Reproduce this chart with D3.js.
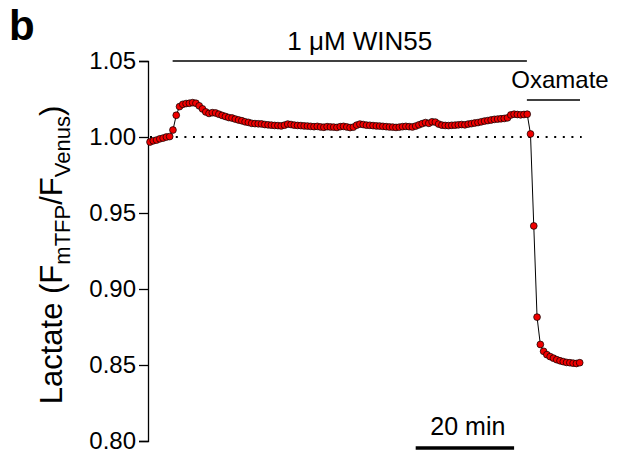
<!DOCTYPE html>
<html>
<head>
<meta charset="utf-8">
<script src="https://cdn.jsdelivr.net/npm/d3@7"></script>
<style>
  html, body { margin: 0; padding: 0; background: #fff; }
  svg { display: block; font-family: Arial, "Liberation Sans", sans-serif; }
</style>
</head>
<body>
<svg id="chart" width="624" height="459"></svg>
<script>
// Lactate sensor ratio, one reading every 40 s
const sampleIntervalMin = 2 / 3;
const lactateRatio = [
  0.9967, 0.9975, 0.9980, 0.9988, 0.9993, 1.0000, 1.0003, 1.0046, 1.0143, 1.0200,
  1.0215, 1.0220, 1.0222, 1.0226, 1.0222, 1.0205, 1.0185, 1.0165, 1.0155, 1.0160,
  1.0158, 1.0150, 1.0142, 1.0135, 1.0128, 1.0125, 1.0118, 1.0112, 1.0107, 1.0100,
  1.0096, 1.0090, 1.0088, 1.0087, 1.0086, 1.0082, 1.0080, 1.0078, 1.0076, 1.0075,
  1.0073, 1.0078, 1.0085, 1.0082, 1.0078, 1.0076, 1.0075, 1.0073, 1.0072, 1.0070,
  1.0068, 1.0070, 1.0066, 1.0064, 1.0068, 1.0066, 1.0065, 1.0063, 1.0068, 1.0070,
  1.0066, 1.0062, 1.0065, 1.0078, 1.0085, 1.0082, 1.0078, 1.0077, 1.0075, 1.0073,
  1.0072, 1.0070, 1.0068, 1.0066, 1.0065, 1.0063, 1.0065, 1.0068, 1.0070, 1.0068,
  1.0066, 1.0072, 1.0080, 1.0088, 1.0095, 1.0090, 1.0100, 1.0098, 1.0085, 1.0078,
  1.0076, 1.0075, 1.0077, 1.0078, 1.0080, 1.0082, 1.0080, 1.0085, 1.0088, 1.0092,
  1.0095, 1.0100, 1.0105, 1.0108, 1.0112, 1.0116, 1.0118, 1.0120, 1.0122, 1.0126,
  1.0145, 1.0150, 1.0148, 1.0146, 1.0148, 1.0150, 1.0020, 0.9415, 0.8815, 0.8635,
  0.8590, 0.8568, 0.8555, 0.8545, 0.8535, 0.8528, 0.8522, 0.8517, 0.8515, 0.8512,
  0.8510, 0.8515
];

// Drug application periods (minutes)
const treatmentLabels = ["1 \u03BCM WIN55", "Oxamate"];
const treatmentStart = [4.6, 76.6];
const treatmentEnd = [76.6, 87.4];

// Axis ticks and scale bar
const yTicks = [0.80, 0.85, 0.90, 0.95, 1.00, 1.05];
const baselineRatio = 1.00;
const scaleBarStart = 54;
const scaleBarMinutes = 20;

const series = lactateRatio.map((v, i) => ({ t: i * sampleIntervalMin, v }));

const svg = d3.select("#chart");

const x = d3.scaleLinear()
  .domain([0, (lactateRatio.length - 1) * sampleIntervalMin])
  .range([150, 579.7]);
const y = d3.scaleLinear().domain([0.80, 1.05]).range([441, 61]);

// Panel letter
svg.append("text")
  .attr("x", 9).attr("y", 40)
  .attr("font-size", 42).attr("font-weight", "bold")
  .text("b");

// Y axis
const yAxis = d3.axisLeft(y)
  .tickValues(yTicks)
  .tickFormat(d3.format(".2f"))
  .tickSize(9)
  .tickPadding(3);
const gy = svg.append("g")
  .attr("transform", "translate(148,0)")
  .call(yAxis);
gy.select(".domain").attr("stroke", "#000").attr("stroke-width", 1.3);
gy.selectAll(".tick line").attr("stroke", "#000").attr("stroke-width", 1.3);
gy.selectAll(".tick text")
  .attr("font-size", 24)
  .attr("font-family", "Arial, 'Liberation Sans', sans-serif")
  .attr("fill", "#000");

// Y axis title with subscripts
const yTitle = svg.append("text")
  .attr("transform", "translate(62,255) rotate(-90)")
  .attr("text-anchor", "middle")
  .attr("font-size", 31);
yTitle.append("tspan").text("Lactate (F");
yTitle.append("tspan").attr("font-size", 22).attr("dy", 8).text("mTFP");
yTitle.append("tspan").attr("dy", -8).text("/F");
yTitle.append("tspan").attr("font-size", 22).attr("dy", 8).text("Venus");
yTitle.append("tspan").attr("dy", -8).text(")");

// Baseline reference
svg.append("line")
  .attr("x1", x(0)).attr("x2", x(x.domain()[1]) + 2)
  .attr("y1", y(baselineRatio)).attr("y2", y(baselineRatio))
  .attr("stroke", "#000")
  .attr("stroke-width", 2)
  .attr("stroke-dasharray", "2 6.6");

// Treatment bars and labels
const barY = [61, 100];
const labelY = [50, 88];
const labelSize = [26, 24];
treatmentLabels.forEach((label, i) => {
  svg.append("line")
    .attr("x1", x(treatmentStart[i])).attr("x2", x(treatmentEnd[i]))
    .attr("y1", barY[i]).attr("y2", barY[i])
    .attr("stroke", "#000").attr("stroke-width", 1.3);
  svg.append("text")
    .attr("x", i === 0 ? (x(treatmentStart[i]) + x(treatmentEnd[i])) / 2 + 10 : 560)
    .attr("y", labelY[i])
    .attr("text-anchor", "middle")
    .attr("font-size", labelSize[i])
    .text(label);
});

// Trace
svg.append("path")
  .datum(series)
  .attr("fill", "none")
  .attr("stroke", "#000")
  .attr("stroke-width", 1)
  .attr("d", d3.line().x(d => x(d.t)).y(d => y(d.v)));

svg.append("g")
  .selectAll("circle")
  .data(series)
  .join("circle")
  .attr("cx", d => x(d.t))
  .attr("cy", d => y(d.v))
  .attr("r", 3.4)
  .attr("fill", "#f00000")
  .attr("stroke", "#000")
  .attr("stroke-width", 0.7);

// Time scale bar
svg.append("line")
  .attr("x1", x(scaleBarStart)).attr("x2", x(scaleBarStart + scaleBarMinutes))
  .attr("y1", 448).attr("y2", 448)
  .attr("stroke", "#000").attr("stroke-width", 3.5);
svg.append("text")
  .attr("x", (x(scaleBarStart) + x(scaleBarStart + scaleBarMinutes)) / 2 + 3)
  .attr("y", 435)
  .attr("text-anchor", "middle")
  .attr("font-size", 25)
  .text(`${scaleBarMinutes} min`);
</script>
</body>
</html>
